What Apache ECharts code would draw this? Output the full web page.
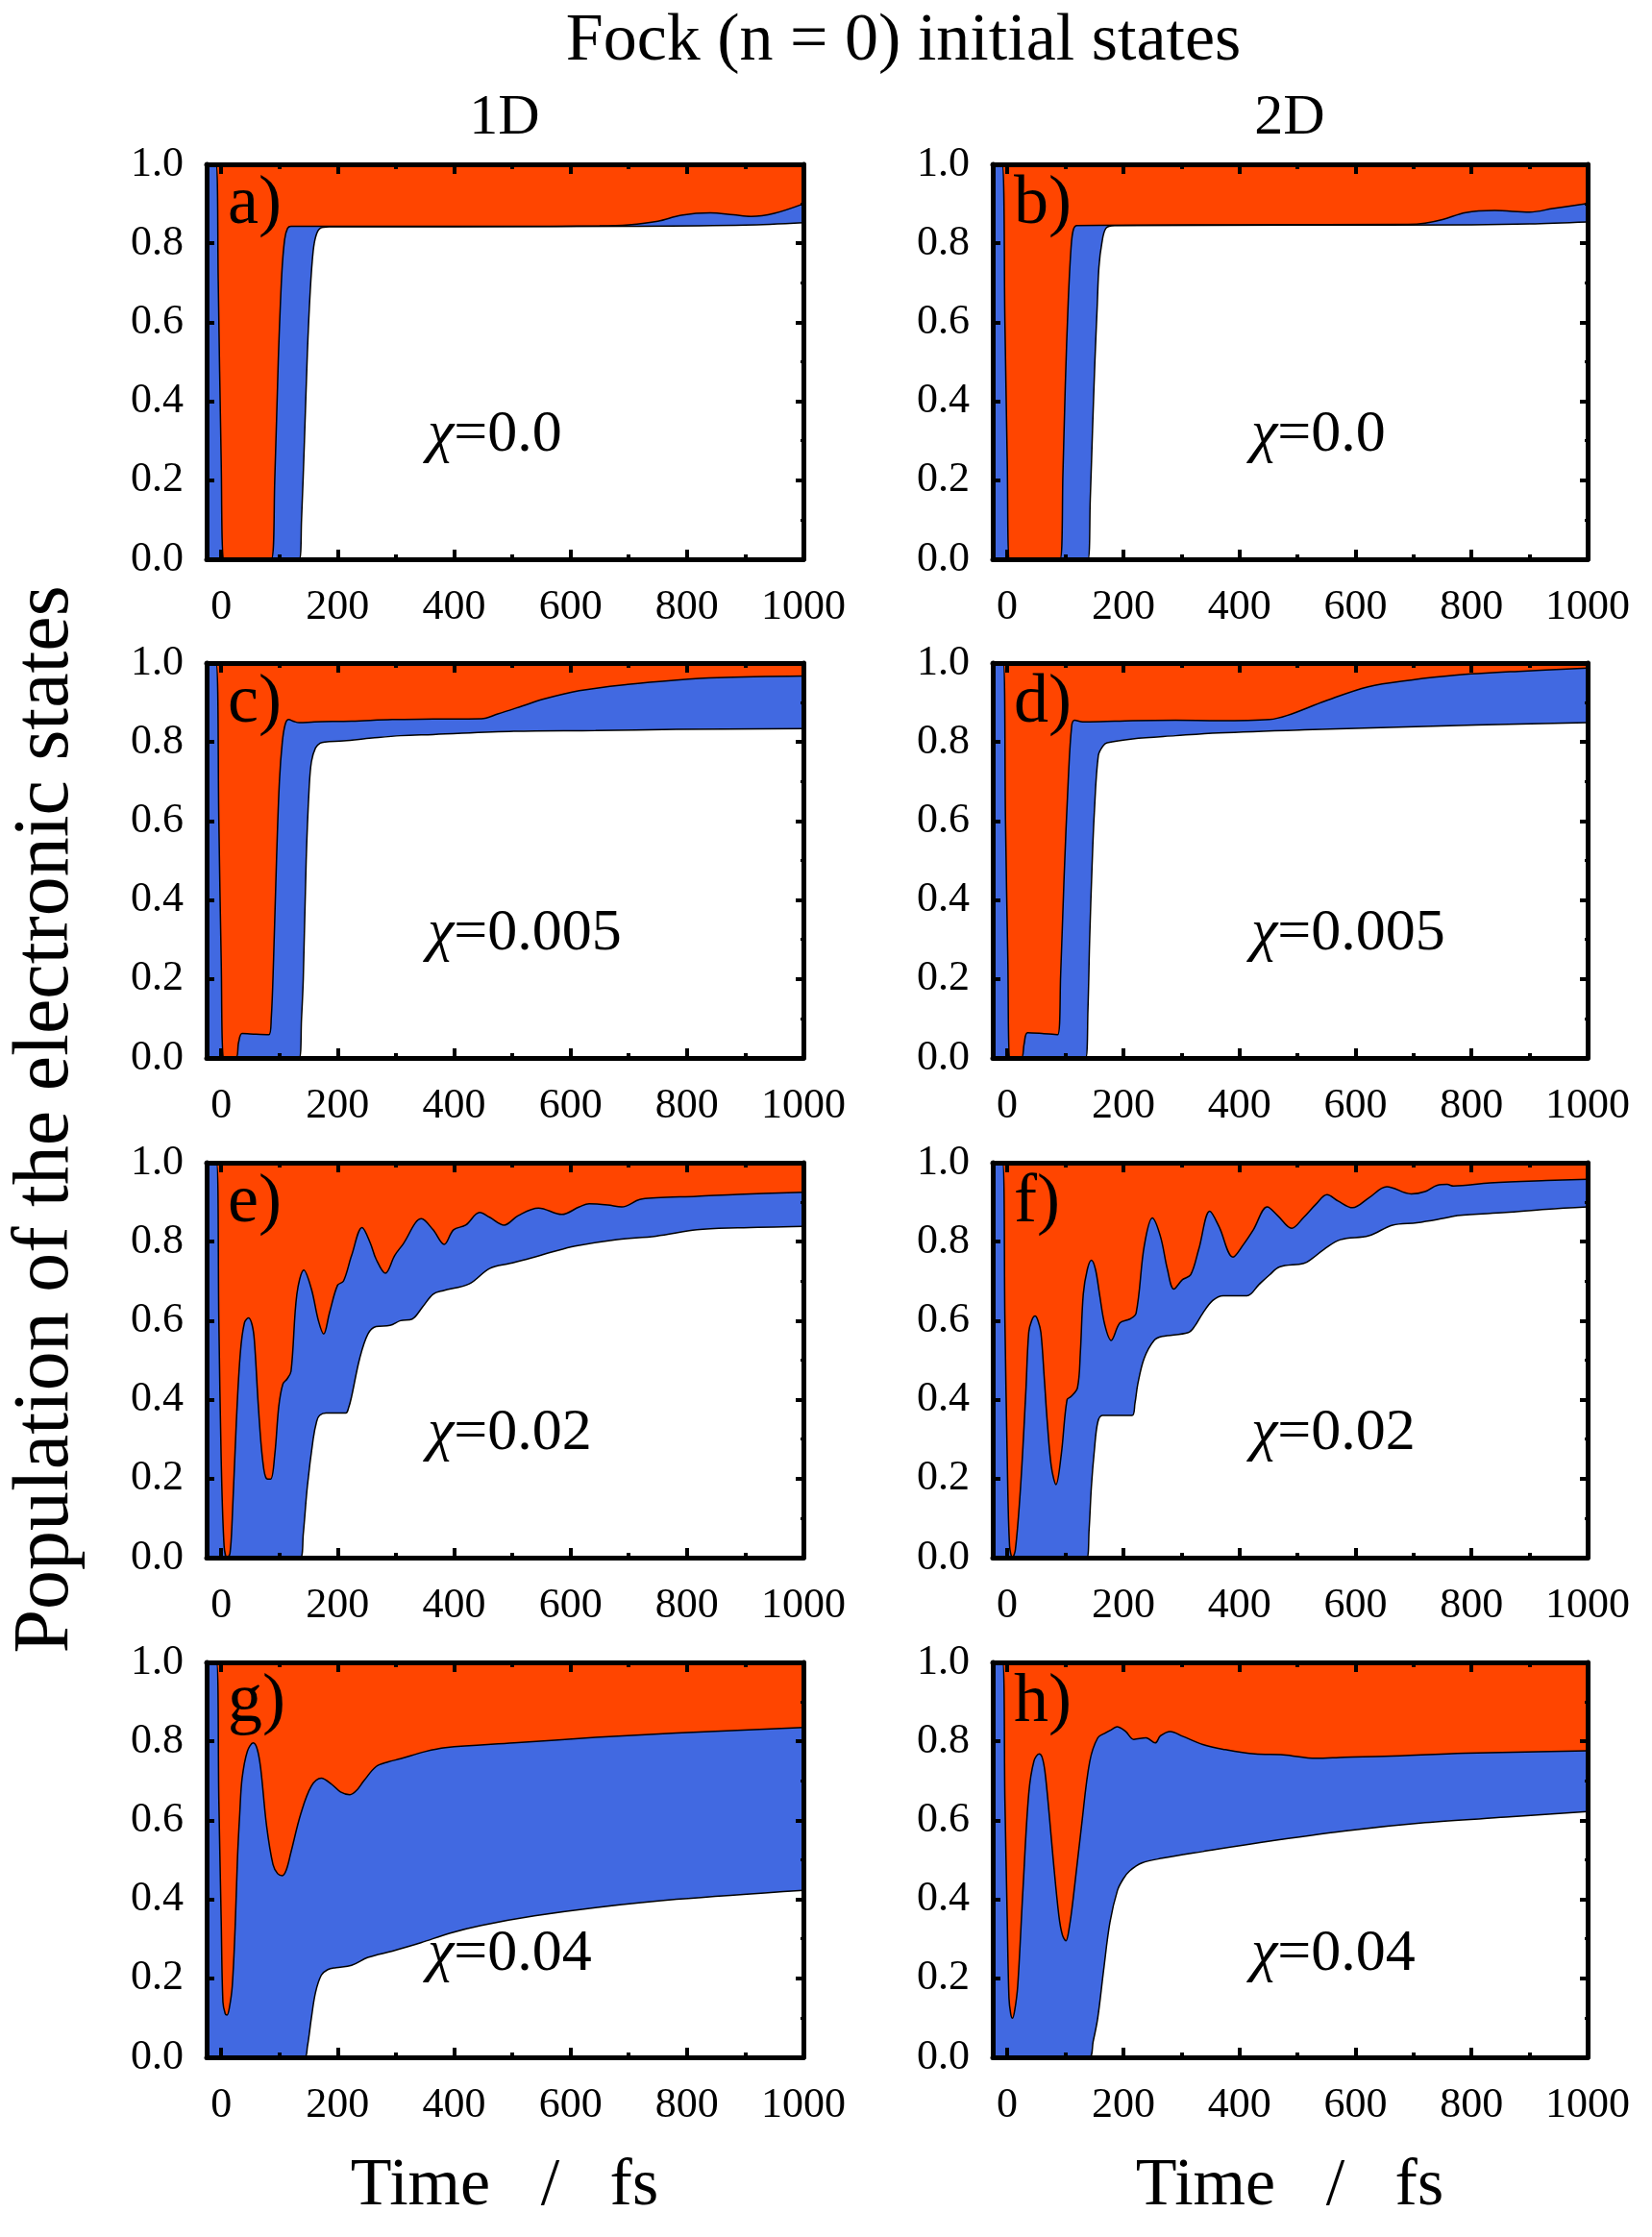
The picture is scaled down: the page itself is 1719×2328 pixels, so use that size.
<!DOCTYPE html>
<html>
<head>
<meta charset="utf-8">
<title>Fock (n = 0) initial states</title>
<script src="https://cdn.jsdelivr.net/npm/echarts@6/dist/echarts.min.js"></script>
<style>
  html, body { margin: 0; padding: 0; background: #fff; }
  #chart { width: 1719px; height: 2328px; }
</style>
</head>
<body>
<div id="chart"></div>
<script>
// tick labels
const timeTicks = [0, 200, 400, 600, 800, 1000];
const timeMinorTicks = [100, 300, 500, 700, 900];

// [time fs, population] : upper = blue/orange border, lower = white/blue border
// a) 1D chi=0.0
const upperA = [[-25,1],[-9,1],[-5,0.7],[0,0.25],[5,0],[86,0],[92,0.2],[98,0.5],[104,0.72],[109,0.81],[114,0.838],[120,0.843],[300,0.843],[500,0.843],[650,0.844],[700,0.847],[750,0.856],[790,0.871],[840,0.877],[880,0.872],[910,0.868],[950,0.876],[1000,0.9]];
const lowerA = [[-25,0],[134,0],[138,0.1],[143,0.3],[148,0.52],[153,0.68],[158,0.78],[163,0.82],[170,0.838],[185,0.842],[400,0.842],[700,0.843],[900,0.846],[1000,0.852]];
// b) 2D chi=0.0
const upperB = [[-25,1],[-9,1],[-4,0.6],[0,0.25],[4,0],[91,0],[96,0.22],[100,0.44],[105,0.65],[110,0.79],[114,0.835],[120,0.845],[400,0.847],[690,0.848],[720,0.851],[750,0.86],[790,0.878],[840,0.883],[900,0.879],[940,0.888],[1000,0.901]];
const lowerB = [[-25,0],[139,0],[143,0.15],[147,0.33],[151,0.5],[155,0.64],[158,0.74],[163,0.8],[170,0.838],[185,0.845],[500,0.846],[800,0.847],[900,0.849],[1000,0.854]];
// c) 1D chi=0.005
const upperC = [[-25,1],[-9,1],[-4,0.6],[0,0.25],[5,0],[25,0],[30,0.04],[36,0.062],[60,0.06],[82,0.059],[86,0.1],[90,0.25],[95,0.5],[100,0.7],[105,0.8],[110,0.845],[116,0.857],[125,0.852],[134,0.849],[160,0.851],[224,0.853],[294,0.857],[364,0.858],[447,0.859],[475,0.871],[517,0.891],[552,0.908],[615,0.93],[698,0.946],[782,0.957],[852,0.963],[1000,0.967]];
const lowerC = [[-25,0],[134,0],[138,0.1],[141,0.2],[146,0.5],[151,0.68],[155,0.75],[162,0.785],[170,0.797],[178,0.8],[210,0.803],[259,0.81],[308,0.816],[364,0.819],[503,0.827],[643,0.829],[782,0.832],[1000,0.834]];
// d) 2D chi=0.005
const upperD = [[-25,1],[-7,1],[-3,0.6],[1,0.25],[5,0],[24,0],[29,0.035],[35,0.064],[60,0.062],[87,0.059],[92,0.21],[98,0.46],[105,0.7],[111,0.84],[116,0.855],[130,0.851],[142,0.851],[216,0.854],[290,0.855],[364,0.854],[452,0.857],[482,0.867],[548,0.904],[622,0.94],[696,0.957],[770,0.969],[881,0.979],[1000,0.987]];
const lowerD = [[-25,0],[135,0],[139,0.12],[142,0.3],[146,0.48],[150,0.62],[157,0.766],[165,0.79],[172,0.798],[216,0.808],[290,0.816],[364,0.823],[512,0.831],[659,0.837],[807,0.843],[1000,0.849]];
// e) 1D chi=0.02
const upperE = [[-25,1],[-8,1],[-4,0.6],[0,0.25],[5,0.03],[10,0],[15,0.01],[19,0.1],[26,0.343],[33,0.52],[40,0.595],[47,0.607],[53,0.59],[57,0.55],[64,0.38],[71,0.25],[78,0.2],[85,0.199],[92,0.26],[99,0.384],[106,0.44],[113,0.452],[120,0.472],[130,0.667],[142,0.728],[155,0.68],[167,0.6],[176,0.566],[186,0.62],[200,0.69],[210,0.7],[224,0.765],[242,0.836],[256,0.797],[266,0.756],[282,0.72],[298,0.765],[312,0.793],[344,0.858],[364,0.83],[383,0.793],[399,0.83],[420,0.842],[444,0.874],[461,0.862],[486,0.842],[510,0.866],[545,0.885],[585,0.869],[615,0.888],[632,0.896],[664,0.893],[688,0.888],[719,0.907],[747,0.911],[817,0.915],[887,0.92],[1000,0.925]];
const lowerE = [[-25,0],[136,0],[141,0.06],[148,0.18],[158,0.3],[164,0.345],[169,0.36],[180,0.366],[214,0.366],[219,0.38],[224,0.408],[238,0.505],[252,0.566],[266,0.585],[290,0.588],[308,0.6],[328,0.604],[346,0.635],[364,0.667],[381,0.676],[426,0.693],[461,0.732],[496,0.745],[538,0.761],[566,0.773],[608,0.789],[677,0.805],[747,0.814],[817,0.83],[887,0.835],[1000,0.839]];
// f) 2D chi=0.02
const upperF = [[-25,1],[-8,1],[-4,0.6],[0,0.25],[4,0.03],[9,0],[14,0.02],[23,0.18],[32,0.42],[37,0.57],[42,0.6],[48,0.612],[53,0.6],[58,0.57],[64,0.45],[69,0.343],[76,0.23],[84,0.185],[93,0.26],[103,0.4],[110,0.408],[121,0.43],[126,0.52],[131,0.667],[138,0.73],[145,0.753],[152,0.73],[159,0.667],[168,0.59],[179,0.55],[194,0.594],[211,0.604],[222,0.619],[236,0.789],[250,0.86],[264,0.813],[276,0.73],[287,0.68],[302,0.704],[316,0.716],[330,0.781],[349,0.877],[365,0.838],[389,0.761],[407,0.793],[424,0.83],[448,0.888],[466,0.866],[490,0.834],[511,0.862],[532,0.895],[551,0.919],[570,0.903],[595,0.886],[623,0.911],[654,0.939],[696,0.921],[720,0.927],[741,0.943],[758,0.945],[769,0.941],[832,0.949],[929,0.955],[1000,0.958]];
const lowerF = [[-25,0],[137,0],[141,0.07],[145,0.18],[150,0.27],[156,0.343],[164,0.36],[215,0.36],[220,0.39],[225,0.44],[236,0.505],[253,0.55],[267,0.56],[312,0.57],[323,0.586],[337,0.619],[354,0.651],[372,0.663],[413,0.663],[434,0.692],[452,0.716],[469,0.736],[511,0.745],[525,0.757],[546,0.781],[574,0.805],[623,0.815],[664,0.842],[706,0.848],[748,0.858],[776,0.866],[859,0.874],[929,0.882],[1000,0.888]];
// g) 1D chi=0.04
const upperG = [[-25,1],[-8,1],[-4,0.65],[0,0.35],[3,0.14],[7,0.11],[10,0.107],[14,0.125],[19,0.18],[24,0.33],[28,0.504],[32,0.62],[36,0.707],[45,0.775],[55,0.796],[62,0.78],[68,0.73],[78,0.586],[89,0.488],[97,0.465],[105,0.46],[112,0.475],[120,0.52],[137,0.618],[155,0.687],[172,0.707],[190,0.691],[205,0.672],[221,0.665],[232,0.675],[245,0.7],[266,0.736],[287,0.748],[308,0.756],[350,0.774],[385,0.784],[503,0.796],[643,0.81],[782,0.821],[1000,0.835]];
const lowerG = [[-25,0],[143,0],[148,0.026],[155,0.1],[162,0.164],[172,0.208],[183,0.222],[197,0.227],[224,0.233],[252,0.253],[294,0.269],[343,0.29],[392,0.314],[447,0.334],[538,0.358],[643,0.379],[782,0.4],[1000,0.423]];
// h) 2D chi=0.04
const upperH = [[-25,1],[-8,1],[-4,0.65],[0,0.35],[3,0.15],[6,0.11],[9,0.099],[13,0.12],[18,0.18],[27,0.423],[37,0.667],[46,0.75],[55,0.768],[60,0.76],[65,0.723],[72,0.62],[79,0.504],[89,0.358],[95,0.31],[101,0.295],[107,0.33],[114,0.407],[128,0.586],[142,0.748],[156,0.809],[170,0.822],[180,0.83],[189,0.837],[204,0.825],[218,0.805],[239,0.809],[255,0.796],[264,0.814],[281,0.825],[302,0.813],[337,0.792],[372,0.78],[427,0.768],[476,0.766],[532,0.757],[581,0.76],[650,0.762],[790,0.77],[1000,0.776]];
const lowerH = [[-25,0],[141,0],[148,0.04],[156,0.1],[166,0.22],[177,0.342],[190,0.423],[200,0.452],[211,0.472],[232,0.492],[267,0.504],[337,0.521],[441,0.545],[581,0.573],[720,0.594],[859,0.608],[1000,0.622]];

const panelLetters = ['a)', 'b)', 'c)', 'd)', 'e)', 'f)', 'g)', 'h)'];
const chiValues = ['0.0', '0.0', '0.005', '0.005', '0.02', '0.02', '0.04', '0.04'];
const upperCurves = [upperA, upperB, upperC, upperD, upperE, upperF, upperG, upperH];
const lowerCurves = [lowerA, lowerB, lowerC, lowerD, lowerE, lowerF, lowerG, lowerH];

// layout (px)
const colLeft = [215, 1033];
const colWidth = [621, 619];
const rowTop = [171, 690, 1210, 1730];
const plotH = 411;
const chiLeft = [445, 1302];
const chiOffset = [282, 282, 282, 304];

const SERIF = 'Liberation Serif';
const ORANGE = '#FF4500';
const BLUE = '#4169E1';

const grids = [], xAxes = [], yAxes = [], series = [], graphics = [];

for (let i = 0; i < 8; i++) {
  const col = i % 2, row = Math.floor(i / 2);
  grids.push({
    left: colLeft[col], top: rowTop[row], width: colWidth[col], height: plotH,
    show: true, backgroundColor: ORANGE, borderWidth: 0
  });
  const xBase = {
    gridIndex: i, type: 'value', min: -25, max: 1000, z: 10,
    splitLine: { show: false }
  };
  // bottom major (labels), bottom minor, top major, top minor
  xAxes.push(Object.assign({}, xBase, {
    position: 'bottom',
    axisLine: { show: true, onZero: false, lineStyle: { color: '#000', width: 5 } },
    axisTick: { show: true, inside: true, length: 10, customValues: timeTicks, lineStyle: { color: '#000', width: 4 } },
    axisLabel: { show: true, customValues: timeTicks, margin: 28, color: '#000', fontSize: 44, fontFamily: SERIF,
      formatter: v => String(v) }
  }));
  xAxes.push(Object.assign({}, xBase, {
    position: 'bottom',
    axisLine: { show: false, onZero: false },
    axisTick: { show: true, inside: true, length: 5, customValues: timeMinorTicks, lineStyle: { color: '#000', width: 4 } },
    axisLabel: { show: false }
  }));
  xAxes.push(Object.assign({}, xBase, {
    position: 'top',
    axisLine: { show: true, onZero: false, lineStyle: { color: '#000', width: 5 } },
    axisTick: { show: true, inside: true, length: 10, customValues: timeTicks, lineStyle: { color: '#000', width: 4 } },
    axisLabel: { show: false }
  }));
  xAxes.push(Object.assign({}, xBase, {
    position: 'top',
    axisLine: { show: false, onZero: false },
    axisTick: { show: true, inside: true, length: 5, customValues: timeMinorTicks, lineStyle: { color: '#000', width: 4 } },
    axisLabel: { show: false }
  }));
  const yBase = {
    gridIndex: i, type: 'value', min: 0, max: 1, interval: 0.2, z: 10,
    splitLine: { show: false },
    axisLine: { show: true, onZero: false, lineStyle: { color: '#000', width: 5 } },
    axisTick: { show: true, inside: true, length: 8, lineStyle: { color: '#000', width: 4 } },
    minorTick: { show: true, splitNumber: 2, length: 3, lineStyle: { color: '#000', width: 3 } }
  };
  yAxes.push(Object.assign({}, yBase, {
    position: 'left',
    axisLabel: { show: true, margin: 24, color: '#000', fontSize: 44, fontFamily: SERIF,
      formatter: v => v.toFixed(1) }
  }));
  yAxes.push(Object.assign({}, yBase, { position: 'right', axisLabel: { show: false } }));

  const line = {
    type: 'line', xAxisIndex: i * 4, yAxisIndex: i * 2,
    symbol: 'none', showSymbol: false, smooth: 0.35,
    silent: true, z: 2, lineStyle: { color: '#000', width: 1.5 }
  };
  series.push(Object.assign({}, line, { data: upperCurves[i], areaStyle: { color: BLUE, opacity: 1, origin: 'start' } }));
  series.push(Object.assign({}, line, { data: lowerCurves[i], areaStyle: { color: '#fff', opacity: 1, origin: 'start' } }));

  // panel letter and coupling value
  graphics.push({
    type: 'text', x: colLeft[col] + 22, y: rowTop[row] + 42, z: 100,
    style: { text: panelLetters[i], fill: '#000', fontSize: 72, fontFamily: SERIF, align: 'left', verticalAlign: 'middle' }
  });
  graphics.push({
    type: 'text', x: chiLeft[col], y: rowTop[row] + chiOffset[row], z: 100,
    style: {
      text: '{c|χ}=' + chiValues[i], fill: '#000', fontSize: 62, fontFamily: SERIF,
      align: 'left', verticalAlign: 'middle',
      rich: { c: { fontSize: 62, fontFamily: SERIF, fontStyle: 'italic', fill: '#000' } }
    }
  });
}

// titles
graphics.push({ type: 'text', x: 940, y: 44, z: 100,
  style: { text: 'Fock (n = 0) initial states', fill: '#000', fontSize: 70, fontFamily: SERIF, align: 'center', verticalAlign: 'middle' } });
graphics.push({ type: 'text', x: 525, y: 123, z: 100,
  style: { text: '1D', fill: '#000', fontSize: 60, fontFamily: SERIF, align: 'center', verticalAlign: 'middle' } });
graphics.push({ type: 'text', x: 1342, y: 123, z: 100,
  style: { text: '2D', fill: '#000', fontSize: 60, fontFamily: SERIF, align: 'center', verticalAlign: 'middle' } });
graphics.push({ type: 'text', x: 48, y: 1165, z: 100, rotation: Math.PI / 2,
  style: { text: 'Population of the electronic states', fill: '#000', fontSize: 82, fontFamily: SERIF, align: 'center', verticalAlign: 'middle' } });
graphics.push({ type: 'text', x: 525, y: 2276, z: 100,
  style: { text: 'Time   /   fs', fill: '#000', fontSize: 70, fontFamily: SERIF, align: 'center', verticalAlign: 'middle' } });
graphics.push({ type: 'text', x: 1342, y: 2276, z: 100,
  style: { text: 'Time   /   fs', fill: '#000', fontSize: 70, fontFamily: SERIF, align: 'center', verticalAlign: 'middle' } });

const chart = echarts.init(document.getElementById('chart'));
chart.setOption({
  backgroundColor: '#fff',
  animation: false,
  grid: grids,
  xAxis: xAxes,
  yAxis: yAxes,
  series: series,
  graphic: graphics
});
</script>
</body>
</html>
